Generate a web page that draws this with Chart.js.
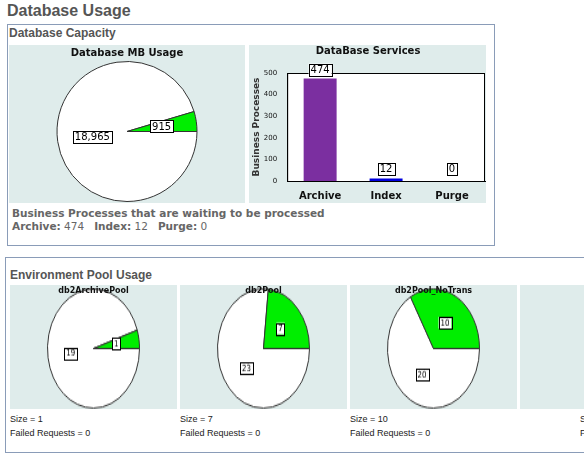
<!DOCTYPE html>
<html><head><meta charset="utf-8">
<script src="https://cdn.jsdelivr.net/npm/chart.js@4"></script>
<style>
body{margin:0;width:584px;height:458px;overflow:hidden;background:#fff;font-family:"Liberation Sans",Arial,sans-serif;position:relative}
.abs{position:absolute}
.panel{position:absolute;background:#dfeceb}
.h{color:#555;font-weight:bold}
.dv{font-family:"DejaVu Sans",sans-serif}
.sm{font-size:9px;color:#222}
.pw{position:absolute;left:33px;top:2px;width:101px;height:95px;transform:scaleY(1.295);transform-origin:0 0}
.pt{position:absolute;left:0;top:1px;width:100%;text-align:center;font:bold 8px "DejaVu Sans",sans-serif;color:#111;z-index:2}
</style></head><body>
<div class="abs h" style="left:7px;top:2px;font-size:16px">Database Usage</div>
<div class="abs" style="left:7px;top:24px;width:486px;height:220px;border:1px solid #8a9cb8"></div>
<div class="abs h" style="left:9px;top:26px;font-size:12px">Database Capacity</div>
<div class="panel" style="left:9px;top:45px;width:236px;height:158px"><canvas id="mb"></canvas></div>
<div class="panel" style="left:249px;top:45px;width:237px;height:158px"><canvas id="bar"></canvas></div>
<div class="abs dv h" style="left:12px;top:207px;font-size:10.5px;color:#666">Business Processes that are waiting to be processed</div>
<div class="abs dv" style="left:12px;top:220px;font-size:10.5px;color:#666"><b>Archive:</b> 474 &nbsp; <b>Index:</b> 12 &nbsp; <b>Purge:</b> 0</div>

<div class="abs" style="left:5px;top:257px;width:600px;height:194px;border:1px solid #8a9cb8"></div>
<div class="abs h" style="left:10px;top:268px;font-size:12px">Environment Pool Usage</div>
<div class="panel" style="left:10px;top:285px;width:167px;height:124px"><div class="pt" id="t0"></div><div class="pw"><canvas id="p0"></canvas></div></div>
<div class="panel" style="left:180px;top:285px;width:167px;height:124px"><div class="pt" id="t1"></div><div class="pw"><canvas id="p1"></canvas></div></div>
<div class="panel" style="left:350px;top:285px;width:167px;height:124px"><div class="pt" id="t2"></div><div class="pw"><canvas id="p2"></canvas></div></div>
<div class="panel" style="left:520px;top:285px;width:167px;height:124px"></div>
<div class="abs sm" style="left:10px;top:414px">Size = 1</div>
<div class="abs sm" style="left:10px;top:428px">Failed Requests = 0</div>
<div class="abs sm" style="left:180px;top:414px">Size = 7</div>
<div class="abs sm" style="left:180px;top:428px">Failed Requests = 0</div>
<div class="abs sm" style="left:350px;top:414px">Size = 10</div>
<div class="abs sm" style="left:350px;top:428px">Failed Requests = 0</div>
<div class="abs sm" style="left:580px;top:414px">Size</div>
<div class="abs sm" style="left:580px;top:428px">Failed</div>
<script>
const mbLabels=["Free","Used"];
const mbValues=[18965,915];
const barCategories=["Archive","Index","Purge"];
const barValues=[474,12,0];
const barTicks=[0,100,200,300,400,500];
const poolNames=["db2ArchivePool","db2Pool","db2Pool_NoTrans"];
const poolFree=[19,23,20];
const poolUsed=[1,7,10];

function box(ctx,text,x,y,font){
  ctx.save();ctx.font=font;ctx.textAlign="center";ctx.textBaseline="middle";
  const w=ctx.measureText(text).width+4,h=parseInt(font)+2;
  ctx.fillStyle="#fff";ctx.fillRect(x-w/2,y-h/2,w,h);
  ctx.strokeStyle="#000";ctx.lineWidth=1;ctx.strokeRect(Math.round(x-w/2)+.5,Math.round(y-h/2)+.5,Math.round(w),Math.round(h));
  ctx.fillStyle="#000";ctx.fillText(text,x,y+0.5);ctx.restore();
}
const pieLabels={id:"pl",afterDatasetsDraw(c,a,o){
  const ctx=c.ctx,meta=c.getDatasetMeta(0);
  meta.data.forEach((arc,i)=>{const p=arc.tooltipPosition();
    box(ctx,c.data.datasets[0].data[i].toLocaleString("en-US"),p.x,p.y,o.font);});
}};
function pie(id,labels,vals,title,w,h,lf){
  const cv=document.getElementById(id);cv.width=w;cv.height=h;
  new Chart(cv,{type:"pie",data:{labels,datasets:[{data:vals,backgroundColor:["#fff","#00ee00"],borderColor:"#333",borderWidth:1}]},
  options:{responsive:false,animation:false,rotation:90,layout:{padding:title?{bottom:1}:1},
  plugins:{legend:{display:false},tooltip:{enabled:false},
  title:{display:!!title,text:title,color:"#111",font:{family:"DejaVu Sans",size:10,weight:"bold"},padding:{top:2,bottom:2}},
  pl:{font:lf}}},plugins:[pieLabels]});
}
pie("mb",mbLabels,mbValues,"Database MB Usage",236,158,"10px DejaVu Sans");
poolNames.forEach((n,i)=>{document.getElementById("t"+i).textContent=n;
  pie("p"+i,["Free","Used"],[poolFree[i],poolUsed[i]],"",101,95,"7px DejaVu Sans");});

const bcv=document.getElementById("bar");bcv.width=237;bcv.height=158;
new Chart(bcv,{type:"bar",data:{labels:barCategories,datasets:[{data:barValues,backgroundColor:["#7b2fa0","#0000dd","#888"],barPercentage:0.5,categoryPercentage:1}]},
options:{responsive:false,animation:false,layout:{padding:{top:0,right:1,left:2}},
plugins:{legend:{display:false},tooltip:{enabled:false},
 title:{display:true,text:"DataBase Services",color:"#111",font:{family:"DejaVu Sans",size:10,weight:"bold"},padding:{top:0,bottom:16}}},
scales:{x:{grid:{display:false},border:{color:"#000"},ticks:{color:"#111",font:{family:"DejaVu Sans",size:10,weight:"bold"},padding:1}},
 y:{min:0,max:500,afterBuildTicks(s){s.ticks=barTicks.map(v=>({value:v}));},grid:{display:false,drawTicks:true},border:{color:"#000"},
  ticks:{color:"#111",font:{family:"DejaVu Sans",size:7},padding:2},
  title:{display:true,text:"Business Processes",color:"#333",font:{family:"DejaVu Sans",size:9,weight:"bold"},padding:0}}}},
plugins:[{id:"frame",beforeDraw(c){const a=c.chartArea,x=c.ctx;x.save();x.fillStyle="#fff";x.fillRect(a.left,a.top,a.right-a.left,a.bottom-a.top);x.restore();},
afterDraw(c){const a=c.chartArea,x=c.ctx;x.save();x.strokeStyle="#000";x.strokeRect(a.left+.5,a.top+.5,a.right-a.left-1,a.bottom-a.top);x.restore();
 const m=c.getDatasetMeta(0);m.data.forEach((b,i)=>box(x,String(barValues[i]),b.x,Math.min(b.y,a.bottom-3)-9,"10px DejaVu Sans"));}}]});
</script>
</body></html>
